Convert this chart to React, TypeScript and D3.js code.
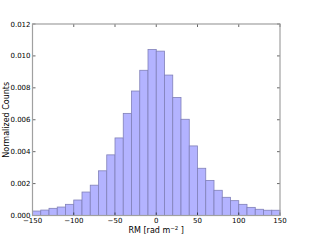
import React from 'react';
import * as d3 from 'd3';

// histogram of RM, bin width 10 rad m^-2
const binStarts = d3.range(-150, 150, 10);
const counts = [
  0.00028, 0.00034, 0.00045, 0.00053, 0.0007, 0.00097, 0.00147, 0.0019, 0.0028, 0.0038,
  0.00486, 0.0064, 0.0078, 0.0091, 0.0104, 0.0103, 0.0088, 0.0074, 0.00603, 0.00436,
  0.00296, 0.0022, 0.00158, 0.00114, 0.00093, 0.0007, 0.00051, 0.00039, 0.00033, 0.00033
];
const xTicks = [-150, -100, -50, 0, 50, 100, 150];
const yTicks = [0, 0.002, 0.004, 0.006, 0.008, 0.01, 0.012];

export default function App() {
  const width = 313, height = 240;
  const margin = {top: 24, right: 33, bottom: 24.5, left: 32.5};

  const x = d3.scaleLinear().domain([-150, 150]).range([margin.left, width - margin.right]);
  const y = d3.scaleLinear().domain([0, 0.012]).range([height - margin.bottom, margin.top]);

  const font = 'DejaVu Sans, sans-serif';
  const axisColor = '#a0a0a0';

  let bars = binStarts.map(function(b, i) {
    return (
      <rect key={i} x={x(b)} y={y(counts[i])}
            width={x(b + 10) - x(b)} height={y(0) - y(counts[i])}
            fill="#b3b3ff" stroke="#8080b8" strokeWidth={0.8}/>
    );
  });

  return (
    <svg width={width} height={height} style={{position: 'absolute', left: 0, top: 0}}>
      <rect width={width} height={height} fill="#fff"/>
      {bars}
      {xTicks.map(t => (
        <g key={'x' + t}>
          <line x1={x(t)} x2={x(t)} y1={y(0)} y2={y(0) - 3} stroke="#000" strokeWidth={0.6}/>
          <line x1={x(t)} x2={x(t)} y1={y(0.012)} y2={y(0.012) + 3} stroke="#000" strokeWidth={0.6}/>
          <text x={x(t)} y={y(0) + 7.5} textAnchor="middle" fontSize={7} fontFamily={font}>
            {t < 0 ? '\u2212' + Math.abs(t) : t}
          </text>
        </g>
      ))}
      {yTicks.map(t => (
        <g key={'y' + t}>
          <line x1={x(-150)} x2={x(-150) + 3} y1={y(t)} y2={y(t)} stroke="#000" strokeWidth={0.6}/>
          <line x1={x(150)} x2={x(150) - 3} y1={y(t)} y2={y(t)} stroke="#000" strokeWidth={0.6}/>
          <text x={x(-150) - 2} y={y(t) + 2.5} textAnchor="end" fontSize={7} fontFamily={font}>
            {t.toFixed(3)}
          </text>
        </g>
      ))}
      <rect x={x(-150)} y={y(0.012)} width={x(150) - x(-150)} height={y(0) - y(0.012)}
            fill="none" stroke={axisColor} strokeWidth={1.2}/>
      <text x={(x(-150) + x(150)) / 2} y={233} textAnchor="middle" fontSize={8} fontFamily={font}>
        RM [rad m<tspan dy={-3} fontSize={5.5}>{'\u22122'}</tspan><tspan dy={3}> ]</tspan>
      </text>
      <text transform={`translate(9,${(y(0) + y(0.012)) / 2}) rotate(-90)`} textAnchor="middle"
            fontSize={8} fontFamily={font}>Normalized Counts</text>
    </svg>
  );
}
